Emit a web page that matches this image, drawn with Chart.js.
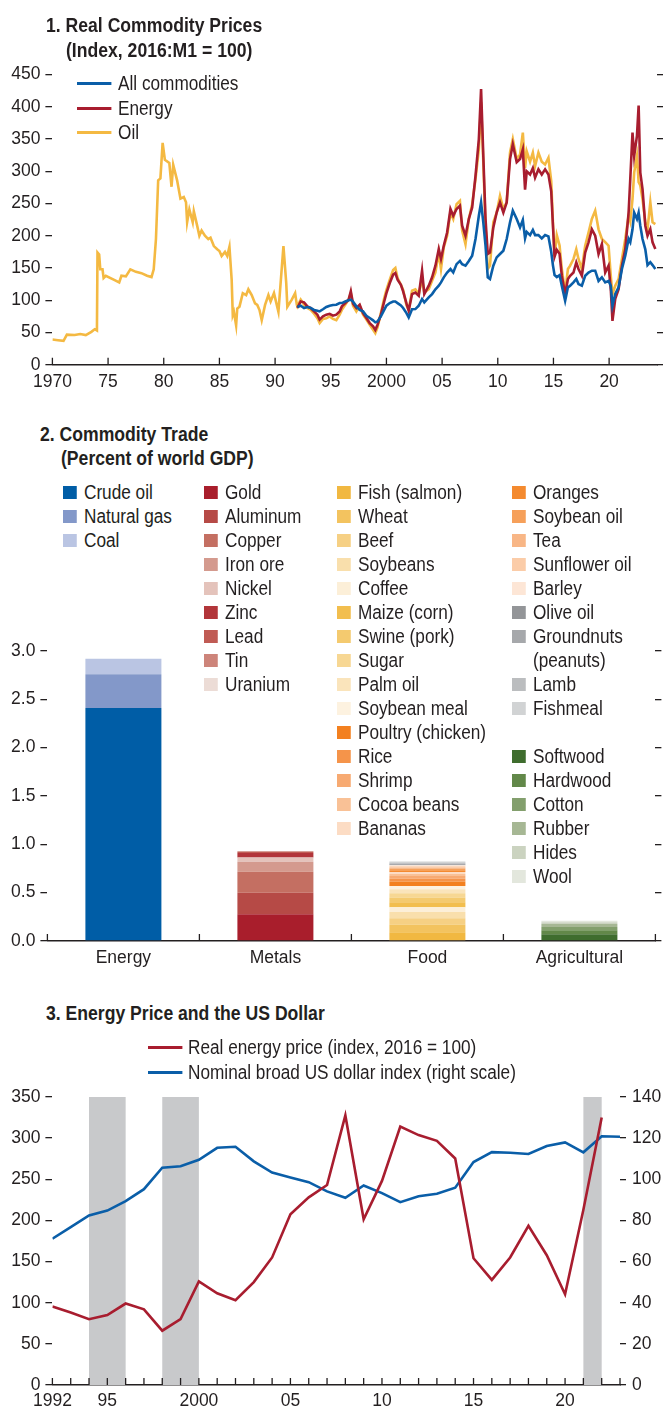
<!DOCTYPE html>
<html>
<head>
<meta charset="utf-8">
<script src="https://cdn.jsdelivr.net/npm/chart.js@4.4.1/dist/chart.umd.min.js"></script>
<style>
  body{margin:0;background:#fff;width:663px;height:1414px;position:relative;overflow:hidden;
       font-family:"Liberation Sans",Arial,sans-serif;color:#231f20}
  canvas{position:absolute;left:0}
  .abs{position:absolute;white-space:nowrap}
  .title{font-weight:bold;font-size:20px;line-height:24px;transform:scaleX(0.88);transform-origin:0 0}
  .sq{transform:scaleX(0.86);transform-origin:0 0;font-size:20px}
  .ll{position:relative;line-height:24.5px;white-space:nowrap}
  .ln{position:absolute;left:0;top:11px;width:39.5px;height:3px}
  .col{position:absolute}
  .li{position:relative;padding-left:24.4px;line-height:24px}
  .sw{position:absolute;left:0;top:5.5px;width:16.3px;height:13px}
</style>
</head>
<body>
<canvas id="c1" width="663" height="400" style="top:0"></canvas>
<canvas id="c2" width="663" height="380" style="top:600px"></canvas>
<canvas id="c3" width="663" height="334" style="top:1080px"></canvas>

<div class="abs title" style="left:46px;top:13px">1. Real Commodity Prices</div>
<div class="abs title" style="left:66px;top:38px">(Index, 2016:M1 = 100)</div>
<div class="abs sq" id="leg1" style="left:77px;top:71px"></div>

<div class="abs title" style="left:40px;top:422px">2. Commodity Trade</div>
<div class="abs title" style="left:61px;top:446px">(Percent of world GDP)</div>
<div id="leg2"></div>

<div class="abs title" style="left:46px;top:1001px">3. Energy Price and the US Dollar</div>
<div class="abs sq" id="leg3" style="left:148px;top:1035px"></div>

<script>
const INK = "#231f20";
const BLUE = "#0a5ea8";
const RED = "#a81d2f";
const GOLD = "#f4b942";
const SHADE = "#c8c9cb";

// ---- panel 1: real commodity prices (index, 2016:M1 = 100)
const oilEarlyYears = [1970.0,1970.5,1971.0,1971.3,1972.0,1972.5,1973.0,1973.5,1973.8,1974.0,1974.05,1974.2,1974.3,1974.5,1974.6,1974.8,1975.5,1976.0,1976.2,1976.6,1977.0,1977.5,1978.0,1978.5,1978.9,1979.1,1979.3,1979.5,1979.7,1979.9,1980.1,1980.5,1980.7,1980.85,1981.2,1981.5,1981.8,1982.0,1982.1,1982.3,1982.6,1982.7,1983.0,1983.2,1983.4,1983.7,1984.0,1984.2,1984.5,1984.8,1985.0,1985.2,1985.5,1985.7,1985.9,1986.1,1986.2,1986.3,1986.5,1986.6,1986.8,1987.1,1987.4,1987.6,1987.9,1988.2,1988.4,1988.6,1988.8,1989.1,1989.4,1989.6,1989.9,1990.3,1990.75,1991.0,1991.1,1991.5,1991.8,1991.95];
const oilEarly = [39,38,37,46.6,46,47.6,46,51,55,53,174,171,148,148,134.5,138,132,127.7,138,137,148,144,142,138,136,148,195,286,289,344,318,313,276,310,286,257.6,260,252,221,241,221,238,215.7,200,208,200,194.8,197,184,179,176.4,168.6,175,168.6,183,132,77,82,61,87,90,111,108,117,108,95,92.7,84.8,69,92.7,108,98,111,82,184,127,90,101,111,93];

const lateYears = [1992.0,1992.3,1992.6,1992.9,1993.2,1993.5,1993.8,1994.0,1994.3,1994.6,1994.9,1995.2,1995.5,1995.8,1996.0,1996.3,1996.6,1996.8,1997.0,1997.3,1997.6,1997.9,1998.2,1998.5,1998.8,1999.0,1999.2,1999.5,1999.8,2000.0,2000.3,2000.6,2000.8,2001.0,2001.3,2001.5,2001.8,2002.0,2002.3,2002.6,2002.9,2003.2,2003.4,2003.8,2004.1,2004.4,2004.7,2004.9,2005.15,2005.45,2005.75,2006.0,2006.3,2006.6,2006.8,2007.1,2007.4,2007.7,2008.0,2008.3,2008.5,2008.7,2008.9,2009.1,2009.3,2009.6,2009.9,2010.2,2010.5,2010.8,2011.1,2011.35,2011.7,2012.0,2012.25,2012.45,2012.6,2012.9,2013.15,2013.35,2013.65,2013.95,2014.25,2014.55,2014.8,2014.95,2015.1,2015.3,2015.55,2015.75,2016.05,2016.3,2016.5,2016.8,2017.05,2017.25,2017.55,2017.85,2018.15,2018.45,2018.75,2019.05,2019.35,2019.65,2019.95,2020.15,2020.3,2020.55,2020.85,2021.15,2021.45,2021.75,2021.9,2022.1,2022.25,2022.5,2022.65,2022.8,2023.0,2023.25,2023.45,2023.7,2023.9,2024.15];
const allCommodities = [89.5,91.5,88,89.5, 88,85,83.8, 82.7,86,89.5,91.5, 92.5,93,95.6, 95.6,98,99.8,100.8, 98,90.5,85,82.7, 76,72.4,68.8, 65.7,67,75,85, 91.5,95.6,98,98, 95.6,92,88,80, 73.4,86,86.3,91.5, 101.9,96.7,104.4, 109.6,117,122.5,127.7, 135.5,143,148.4, 143,156,161,156, 153.6,161,169, 195,231,251.8,220.8,184.6, 135.5,133,153.6,166.5, 171.7,176.8,195, 220.8,239,226, 213,224.6,196,206,201, 209,201,201,196, 201,199,175,154.5, 139,136,139,122.5, 99,120,122.5,127.7, 133,125,122.5,138, 143,145.8,145.8, 130,135.5,127.7,130, 122.5,91.5,109.6,120, 148.4,169,195,190, 210,236,226,236,215.6, 195,179,154.5,159,154.5, 148.4];
const energy = [88,98,96.7,90.5, 88,82.7,77.6, 70,75,77.6,79, 76,77.6,82.7, 90.5,95.6,100.8,113.8, 94.6,88,93,80, 72.4,64.6,59.5, 54,62,77.6,98, 111,126.7,139.6,142, 131.8,124,113.8,95, 83.8,109.6,112,107, 145.8,109.6,122.5, 135.5,153.6,179.4,164, 184.6,205,241.5, 231,241.5,246.6,215.6, 200,226,244, 293,350,427.6,324,226, 171.7,174,213,236, 251.8,236,251.8, 319,342,314, 319,334,271.6,300,295, 305,290,303,295, 303,295,269,217, 167.5,178,172,138, 109.6,133,138,143, 158.7,148.4,138,174, 189.8,210,200, 171.7,187,143,153.6, 117,68,102,117, 153.6,179.4,236,288, 360,324,355,402,298, 272.5,215.6,200,210.4,189.8, 179.4];
const oilLate = [90.5,101,93,88, 85,79,72, 64.6,71,72,75, 71,69,77.6, 85,93,101,111, 91.5,82.7,91.5,77.6, 70,62,54.3, 49,58,80,103, 116,131.8,147,150, 134.4,124,116,92, 85,114.8,117,109.6, 132.9,112,117, 130,143,174,148.4, 182,200,236, 226,249,254,208, 187,226,249, 288,334.5,407,314,215.6, 148.4,153.6,220.8,236, 262,241.5,251.8, 329.4,350,319, 326,360,305,331,315, 329,308,329,315, 310.6,321,284.6,222, 167.5,201,185,148.4, 112,148.4,153.6,164, 179,164,148.4,184.6, 205,226,239, 210,195,190,184.6, 138,109.6,122.5,133, 164,195,231,222, 257,298,324,283,278, 257,221,210,252,221, 218];
const p1Labels = ["All commodities", "Energy", "Oil"];
const p1Colors = [BLUE, RED, GOLD];

// ---- panel 2: commodity trade (percent of world GDP)
const tradeCategories = ["Energy", "Metals", "Food", "Agricultural"];
const energyNames = ["Crude oil", "Natural gas", "Coal"];
const energyShares = [2.41, 0.35, 0.16];
const metalNames = ["Gold","Aluminum","Copper","Iron ore","Nickel","Zinc","Lead","Tin","Uranium"];
const metalShares = [0.277,0.222,0.218,0.104,0.042,0.048,0.010,0.007,0.004];
const foodNames = ["Fish (salmon)","Wheat","Beef","Soybeans","Coffee","Maize (corn)","Swine (pork)","Sugar","Palm oil","Soybean meal","Poultry (chicken)","Rice","Shrimp","Cocoa beans","Bananas","Oranges","Soybean oil","Tea","Sunflower oil","Barley","Olive oil","Groundnuts (peanuts)","Lamb","Fishmeal"];
const foodShares = [0.09,0.08,0.065,0.065,0.05,0.05,0.05,0.045,0.04,0.035,0.045,0.03,0.028,0.02,0.02,0.02,0.018,0.01,0.012,0.01,0.01,0.008,0.01,0.012];
const agriNames = ["Softwood","Hardwood","Cotton","Rubber","Hides","Wool"];
const agriShares = [0.07,0.04,0.035,0.03,0.02,0.015];

const energyColors = ["#005da6","#8398c9","#bac5e3"];
const metalColors = ["#a91e2c","#b64a46","#c46f62","#d49a8e","#e4c3bb","#b2353a","#c05b54","#cd847a","#ecdcd6"];
const foodColors = ["#f1b841","#f3c35f","#f6d084","#f9dfac","#fcefd8","#f2be4e","#f4ca6f","#f7d793","#fae4bb","#fdf2e0","#f3801f","#f5944a","#f7aa72","#f9c196","#fcdcc4","#f48a2f","#f6a05a","#f8b686","#fbcca8","#fde6d6","#939598","#a6a8ab","#bbbdbf","#d1d3d4"];
const agriColors = ["#3f6d2e","#628849","#839f6d","#a6b794","#cbd3c0","#e3e7dd"];

// ---- panel 3: energy price and the US dollar
const years3 = [1992,1993,1994,1995,1996,1997,1998,1999,2000,2001,2002,2003,2004,2005,2006,2007,2008,2009,2010,2011,2012,2013,2014,2015,2016,2017,2018,2019,2020,2021,2022,2023];
const realEnergyPrice = [95.3,88,80,85,99,92,66,80,126,111.5,103,125,155,207.6,228,243,327.6,201.5,248,314,303.7,296.8,275.3,154,127.7,155,193.4,157.7,110.3,213,325.2];
const dollarIndex = [71.1,76.7,82.4,84.8,89.4,95.2,105.6,106.3,109.5,115.3,115.8,108.7,103.3,100.9,98.6,94.1,91,97,93.3,88.9,91.8,93,95.9,108.4,113.2,112.9,112.3,116.2,117.9,113.1,120.9,120.7];
const shadeStart = [1994, 1998, 2021];
const shadeEnd = [1996, 2000, 2022];
const p3Labels = ["Real energy price (index, 2016 = 100)", "Nominal broad US dollar index (right scale)"];
const p3Colors = [RED, BLUE];

Chart.defaults.font.family = '"Liberation Sans",Arial,sans-serif';
Chart.defaults.font.size = 17.5;
Chart.defaults.color = INK;

// small tick marks pointing up from the x axis
const innerTicks = {
  id: "innerTicks",
  afterDraw(chart){
    const x = chart.scales.x, ctx = chart.ctx, bottom = chart.chartArea.bottom;
    let px = [];
    if (x.type === "category") {
      for (let i = 0; i <= x.getLabels().length; i++) px.push(x.getPixelForValue(i - 0.5));
    } else {
      px = x.ticks.map(t => x.getPixelForValue(t.value));
    }
    ctx.save();
    ctx.strokeStyle = INK;
    ctx.lineWidth = 1.3;
    ctx.beginPath();
    px.forEach(p => { ctx.moveTo(p, bottom); ctx.lineTo(p, bottom - 7); });
    ctx.stroke();
    ctx.restore();
  }
};

const shading = {
  id: "shading",
  beforeDatasetsDraw(chart){
    const { ctx, chartArea: a, scales: { x } } = chart;
    ctx.save();
    ctx.fillStyle = SHADE;
    shadeStart.forEach((s, i) => {
      const x0 = x.getPixelForValue(s), x1 = x.getPixelForValue(shadeEnd[i]);
      ctx.fillRect(x0, a.top, x1 - x0, a.bottom - a.top);
    });
    ctx.restore();
  }
};

function fixW(w){ return s => { s.width = w; }; }
function fixH(h){ return s => { s.height = h; }; }
function yearLabel(first){
  return v => (v === first || v === 2000) ? String(v) : String(v % 100).padStart(2, "0");
}
function leftAxis(min, max, step, width, fmt){
  return {
    min, max, afterFit: fixW(width),
    border: { display: false },
    grid: { drawOnChartArea: false, drawTicks: true, tickLength: 7, color: INK, lineWidth: 1.3 },
    ticks: { stepSize: step, padding: 5, callback: fmt || (v => v) }
  };
}
function rightAxis(min, max, step, width, labels){
  return {
    position: "right", min, max, afterFit: fixW(width),
    border: { display: false },
    grid: { drawOnChartArea: false, drawTicks: true, tickLength: 6, color: INK, lineWidth: 1.3 },
    ticks: { display: labels, stepSize: step, padding: 6 }
  };
}
const base = { responsive: false, animation: false, devicePixelRatio: 1 };

// panel 1
const lineStyle = c => ({ borderColor: c, backgroundColor: c, borderWidth: 2.6, pointRadius: 0, tension: 0, fill: false });
new Chart(document.getElementById("c1"), {
  type: "line",
  data: { datasets: [
    { label: p1Labels[0], data: lateYears.map((x, i) => ({ x, y: allCommodities[i] })), ...lineStyle(p1Colors[0]) },
    { label: p1Labels[1], data: lateYears.map((x, i) => ({ x, y: energy[i] })), ...lineStyle(p1Colors[1]) },
    { label: p1Labels[2], data: oilEarlyYears.concat(lateYears).map((x, i) => ({ x, y: oilEarly.concat(oilLate)[i] })), ...lineStyle(p1Colors[2]) }
  ]},
  options: {
    ...base,
    layout: { padding: { top: 74.6, left: 0, right: 0, bottom: 0 } },
    plugins: { legend: { display: false }, tooltip: { enabled: false } },
    scales: {
      x: { type: "linear", min: 1970, max: 2024.3, afterFit: fixH(35.3),
           border: { display: true, color: INK, width: 1.5 },
           grid: { display: false, drawTicks: false },
           ticks: { stepSize: 5, includeBounds: false, autoSkip: false, maxRotation: 0, padding: 7, callback: yearLabel(1970) } },
      y: leftAxis(0, 450, 50, 52.4),
      y2: rightAxis(0, 450, 50, 6, false)
    }
  },
  plugins: [innerTicks]
});

// panel 2
const groups = [
  [energyNames, energyShares, energyColors],
  [metalNames, metalShares, metalColors],
  [foodNames, foodShares, foodColors],
  [agriNames, agriShares, agriColors]
];
const tradeSets = [];
groups.forEach(([names, shares, colors], gi) => {
  names.forEach((n, i) => {
    tradeSets.push({
      label: n,
      data: tradeCategories.map((_, ci) => ci === gi ? shares[i] : null),
      backgroundColor: colors[i], borderWidth: 0,
      categoryPercentage: 0.5, barPercentage: 1
    });
  });
});
new Chart(document.getElementById("c2"), {
  type: "bar",
  data: { labels: tradeCategories, datasets: tradeSets },
  options: {
    ...base,
    layout: { padding: { top: 51, left: 0, right: 0, bottom: 0 } },
    plugins: { legend: { display: false }, tooltip: { enabled: false } },
    scales: {
      x: { stacked: true, afterFit: fixH(39),
           border: { display: true, color: INK, width: 1.5 },
           grid: { display: false, drawTicks: false },
           ticks: { padding: 7, maxRotation: 0 } },
      y: { ...leftAxis(0, 3, 0.5, 47.4, v => v.toFixed(1)), stacked: true },
      y2: rightAxis(0, 3, 0.5, 7.6, false)
    }
  },
  plugins: [innerTicks]
});

// panel 2 legend, four columns
function legItem(name, color){
  return `<div class="li"><span class="sw" style="background:${color}"></span>${name}</div>`;
}
const cols = [
  energyNames.map((n, i) => legItem(n, energyColors[i])).join(""),
  metalNames.map((n, i) => legItem(n, metalColors[i])).join(""),
  foodNames.slice(0, 15).map((n, i) => legItem(n, foodColors[i])).join(""),
  foodNames.slice(15).map((n, i) => legItem(n, foodColors[i + 15])).join("") +
    '<div style="height:24px"></div>' +
    agriNames.map((n, i) => legItem(n, agriColors[i])).join("")
];
const colLeft = [63, 204, 337, 512];
document.getElementById("leg2").innerHTML = cols.map((html, i) =>
  `<div class="col sq" style="left:${colLeft[i]}px;top:480px;width:${i === 3 ? 172 : 200}px">${html}</div>`).join("");

// line legends
function lineLegend(id, labels, colors, indent){
  document.getElementById(id).innerHTML = labels.map((l, i) =>
    `<div class="ll" style="padding-left:${indent}px"><span class="ln" style="background:${colors[i]}"></span>${l}</div>`).join("");
}
lineLegend("leg1", p1Labels, p1Colors, 47.7);
lineLegend("leg3", p3Labels, p3Colors, 46.5);

// panel 3
new Chart(document.getElementById("c3"), {
  type: "line",
  data: { datasets: [
    { label: p3Labels[0], data: realEnergyPrice.map((y, i) => ({ x: years3[i], y })), yAxisID: "y", ...lineStyle(p3Colors[0]) },
    { label: p3Labels[1], data: dollarIndex.map((y, i) => ({ x: years3[i], y })), yAxisID: "y2", ...lineStyle(p3Colors[1]) }
  ]},
  options: {
    ...base,
    layout: { padding: { top: 17, left: 0, right: 0, bottom: 0 } },
    plugins: { legend: { display: false }, tooltip: { enabled: false } },
    scales: {
      x: { type: "linear", min: 1992, max: 2023, afterFit: fixH(29),
           border: { display: true, color: INK, width: 1.5 },
           grid: { display: false, drawTicks: false },
           ticks: { stepSize: 1, autoSkip: false, maxRotation: 0, padding: 6,
                    callback: v => (v === 1992 || v === 2000) ? String(v) : (v % 5 === 0 ? String(v % 100).padStart(2, "0") : "") } },
      y: leftAxis(0, 350, 50, 52.4),
      y2: rightAxis(0, 140, 20, 43, true)
    }
  },
  plugins: [shading, innerTicks]
});
</script>
</body>
</html>
